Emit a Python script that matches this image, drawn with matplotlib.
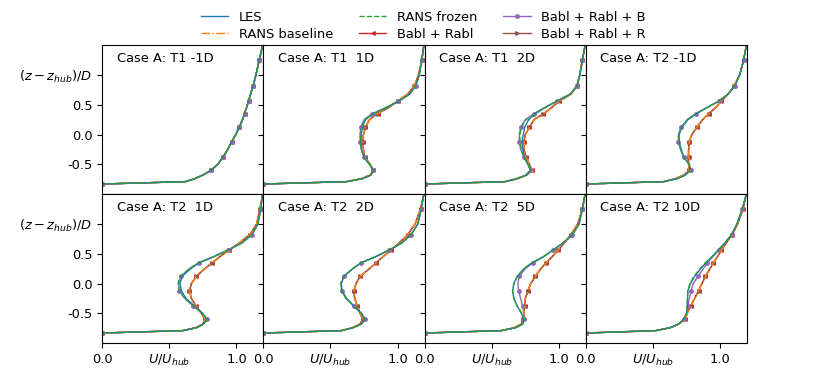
import numpy as np
import matplotlib
matplotlib.use("Agg")
import matplotlib.pyplot as plt

plt.rcParams["font.size"] = 9.4

# ====== 縦方向の位置 (z - z_hub)/D ======
z = [-0.83, -0.79, -0.74, -0.68, -0.60, -0.50, -0.38, -0.25, -0.12, 0.0,
     0.12, 0.25, 0.35, 0.45, 0.56, 0.68, 0.82, 1.0, 1.25, 1.5]

panel_titles = ["Case A: T1 -1D", "Case A: T1  1D", "Case A: T1  2D", "Case A: T2 -1D",
                "Case A: T2  1D", "Case A: T2  2D", "Case A: T2  5D", "Case A: T2 10D"]

series_names = ["LES", "RANS baseline", "RANS frozen",
                "Babl + Rabl", "Babl + Rabl + B", "Babl + Rabl + R"]

# ====== T1 -1D (流入) ======
u_inflow = [0, 0.62, 0.69, 0.75, 0.81, 0.86, 0.90, 0.935, 0.965, 0.995,
            1.02, 1.045, 1.06, 1.075, 1.09, 1.105, 1.125, 1.145, 1.17, 1.195]

# ====== T1 1D ======
les_t1_1 = [0, 0.62, 0.74, 0.80, 0.82, 0.79, 0.75, 0.73, 0.725, 0.73,
            0.735, 0.76, 0.82, 0.915, 1.01, 1.09, 1.135, 1.16, 1.18, 1.195]
base_t1_1 = [0, 0.62, 0.72, 0.79, 0.82, 0.795, 0.755, 0.745, 0.74, 0.745,
             0.76, 0.79, 0.85, 0.93, 1.0, 1.075, 1.125, 1.155, 1.18, 1.195]
frozen_t1_1 = [0, 0.62, 0.74, 0.80, 0.82, 0.79, 0.75, 0.73, 0.725, 0.725,
               0.73, 0.755, 0.815, 0.91, 1.005, 1.09, 1.135, 1.16, 1.18, 1.195]
babl_t1_1 = [0, 0.62, 0.73, 0.80, 0.82, 0.795, 0.755, 0.745, 0.74, 0.745,
             0.76, 0.79, 0.85, 0.93, 1.0, 1.075, 1.125, 1.155, 1.18, 1.195]
bablb_t1_1 = [0, 0.62, 0.74, 0.80, 0.82, 0.79, 0.75, 0.73, 0.72, 0.72,
              0.725, 0.75, 0.81, 0.91, 1.005, 1.09, 1.135, 1.16, 1.18, 1.195]
bablr_t1_1 = [0, 0.62, 0.73, 0.80, 0.82, 0.795, 0.755, 0.745, 0.74, 0.745,
              0.76, 0.79, 0.85, 0.93, 1.0, 1.075, 1.125, 1.155, 1.18, 1.195]

# ====== T1 2D ======
les_t1_2 = [0, 0.60, 0.69, 0.755, 0.79, 0.77, 0.745, 0.73, 0.725, 0.735,
            0.745, 0.775, 0.825, 0.895, 0.985, 1.085, 1.135, 1.155, 1.175, 1.195]
base_t1_2 = [0, 0.60, 0.68, 0.75, 0.80, 0.78, 0.755, 0.74, 0.74, 0.75,
             0.78, 0.815, 0.885, 0.945, 1.0, 1.09, 1.135, 1.155, 1.175, 1.195]
frozen_t1_2 = [0, 0.60, 0.69, 0.755, 0.79, 0.77, 0.74, 0.72, 0.71, 0.71,
               0.72, 0.755, 0.82, 0.895, 0.985, 1.085, 1.135, 1.155, 1.175, 1.195]
babl_t1_2 = [0, 0.60, 0.69, 0.76, 0.80, 0.78, 0.755, 0.74, 0.74, 0.75,
             0.78, 0.815, 0.885, 0.945, 1.0, 1.09, 1.135, 1.155, 1.175, 1.195]
bablb_t1_2 = [0, 0.60, 0.69, 0.755, 0.79, 0.77, 0.74, 0.715, 0.705, 0.705,
              0.715, 0.75, 0.815, 0.89, 0.985, 1.085, 1.135, 1.155, 1.175, 1.195]
bablr_t1_2 = [0, 0.60, 0.69, 0.76, 0.80, 0.78, 0.755, 0.74, 0.74, 0.75,
              0.78, 0.815, 0.885, 0.945, 1.0, 1.09, 1.135, 1.155, 1.175, 1.195]

# ====== T2 -1D ======
les_t2_m1 = [0, 0.58, 0.68, 0.74, 0.78, 0.77, 0.73, 0.71, 0.695, 0.695,
             0.715, 0.76, 0.825, 0.90, 0.99, 1.06, 1.11, 1.145, 1.175, 1.195]
base_t2_m1 = [0, 0.58, 0.665, 0.725, 0.77, 0.765, 0.765, 0.765, 0.77, 0.79,
              0.825, 0.87, 0.915, 0.965, 1.01, 1.06, 1.105, 1.145, 1.175, 1.195]
frozen_t2_m1 = [0, 0.58, 0.68, 0.74, 0.78, 0.77, 0.73, 0.705, 0.69, 0.69,
                0.71, 0.755, 0.82, 0.90, 0.99, 1.06, 1.11, 1.145, 1.175, 1.195]
babl_t2_m1 = [0, 0.58, 0.67, 0.73, 0.77, 0.765, 0.765, 0.765, 0.77, 0.79,
              0.825, 0.87, 0.915, 0.965, 1.01, 1.06, 1.105, 1.145, 1.175, 1.195]
bablb_t2_m1 = [0, 0.58, 0.68, 0.74, 0.78, 0.77, 0.73, 0.705, 0.69, 0.69,
               0.71, 0.755, 0.82, 0.90, 0.99, 1.06, 1.11, 1.145, 1.175, 1.195]
bablr_t2_m1 = [0, 0.58, 0.67, 0.73, 0.77, 0.765, 0.765, 0.765, 0.77, 0.79,
               0.825, 0.87, 0.915, 0.965, 1.01, 1.06, 1.105, 1.145, 1.175, 1.195]

# ====== T2 1D ======
les_t2_1 = [0, 0.60, 0.705, 0.755, 0.78, 0.75, 0.69, 0.625, 0.59, 0.58,
            0.595, 0.66, 0.725, 0.83, 0.935, 1.04, 1.115, 1.16, 1.18, 1.195]
base_t2_1 = [0, 0.60, 0.695, 0.745, 0.765, 0.74, 0.70, 0.665, 0.65, 0.665,
             0.70, 0.765, 0.82, 0.875, 0.945, 1.02, 1.10, 1.15, 1.175, 1.195]
frozen_t2_1 = [0, 0.60, 0.705, 0.755, 0.78, 0.745, 0.68, 0.615, 0.575, 0.565,
               0.58, 0.65, 0.72, 0.83, 0.935, 1.04, 1.115, 1.16, 1.18, 1.195]
babl_t2_1 = [0, 0.60, 0.70, 0.75, 0.765, 0.74, 0.70, 0.665, 0.65, 0.665,
             0.70, 0.765, 0.82, 0.875, 0.945, 1.02, 1.10, 1.15, 1.175, 1.195]
bablb_t2_1 = [0, 0.60, 0.705, 0.755, 0.78, 0.745, 0.68, 0.615, 0.575, 0.57,
              0.585, 0.65, 0.72, 0.83, 0.935, 1.04, 1.115, 1.16, 1.18, 1.195]
bablr_t2_1 = [0, 0.60, 0.70, 0.75, 0.765, 0.74, 0.70, 0.665, 0.65, 0.665,
              0.70, 0.765, 0.82, 0.875, 0.945, 1.02, 1.10, 1.15, 1.175, 1.195]

# ====== T2 2D ======
les_t2_2 = [0, 0.58, 0.67, 0.73, 0.757, 0.73, 0.675, 0.62, 0.585, 0.58,
            0.60, 0.665, 0.73, 0.835, 0.935, 1.03, 1.10, 1.15, 1.175, 1.195]
base_t2_2 = [0, 0.58, 0.66, 0.715, 0.74, 0.72, 0.70, 0.68, 0.675, 0.69,
             0.72, 0.79, 0.84, 0.89, 0.95, 1.01, 1.075, 1.13, 1.17, 1.195]
frozen_t2_2 = [0, 0.58, 0.67, 0.73, 0.757, 0.73, 0.675, 0.615, 0.58, 0.575,
               0.595, 0.665, 0.73, 0.835, 0.935, 1.03, 1.10, 1.15, 1.175, 1.195]
babl_t2_2 = [0, 0.58, 0.665, 0.72, 0.74, 0.72, 0.70, 0.68, 0.675, 0.69,
             0.72, 0.79, 0.84, 0.89, 0.95, 1.01, 1.075, 1.13, 1.17, 1.195]
bablb_t2_2 = [0, 0.58, 0.67, 0.73, 0.757, 0.73, 0.675, 0.615, 0.585, 0.58,
              0.60, 0.665, 0.73, 0.835, 0.935, 1.03, 1.10, 1.15, 1.175, 1.195]
bablr_t2_2 = [0, 0.58, 0.665, 0.72, 0.74, 0.72, 0.70, 0.68, 0.675, 0.69,
              0.72, 0.79, 0.84, 0.89, 0.95, 1.01, 1.075, 1.13, 1.17, 1.195]

# ====== T2 5D ======
les_t2_5 = [0, 0.57, 0.68, 0.73, 0.74, 0.72, 0.69, 0.665, 0.655, 0.665,
            0.69, 0.74, 0.80, 0.885, 0.955, 1.03, 1.10, 1.15, 1.175, 1.195]
base_t2_5 = [0, 0.57, 0.665, 0.715, 0.735, 0.74, 0.745, 0.75, 0.77, 0.79,
             0.825, 0.865, 0.905, 0.95, 0.995, 1.04, 1.09, 1.14, 1.175, 1.195]
frozen_t2_5 = [0, 0.57, 0.68, 0.73, 0.745, 0.725, 0.69, 0.665, 0.655, 0.665,
               0.69, 0.74, 0.80, 0.885, 0.955, 1.03, 1.10, 1.15, 1.175, 1.195]
babl_t2_5 = [0, 0.57, 0.67, 0.72, 0.735, 0.74, 0.745, 0.75, 0.77, 0.79,
             0.825, 0.865, 0.905, 0.95, 0.995, 1.04, 1.09, 1.14, 1.175, 1.195]
bablb_t2_5 = [0, 0.57, 0.68, 0.73, 0.74, 0.74, 0.73, 0.715, 0.70, 0.695,
              0.705, 0.75, 0.81, 0.885, 0.955, 1.03, 1.10, 1.15, 1.175, 1.195]
bablr_t2_5 = [0, 0.57, 0.67, 0.72, 0.735, 0.74, 0.745, 0.75, 0.77, 0.79,
              0.825, 0.865, 0.905, 0.95, 0.995, 1.04, 1.09, 1.14, 1.175, 1.195]

# ====== T2 10D ======
les_t2_10 = [0, 0.52, 0.63, 0.69, 0.73, 0.75, 0.755, 0.757, 0.76, 0.78,
             0.81, 0.855, 0.895, 0.94, 0.985, 1.035, 1.085, 1.125, 1.165, 1.195]
base_t2_10 = [0, 0.52, 0.63, 0.69, 0.74, 0.755, 0.78, 0.81, 0.84, 0.865,
              0.89, 0.925, 0.95, 0.98, 1.01, 1.045, 1.09, 1.13, 1.17, 1.195]
frozen_t2_10 = [0, 0.52, 0.63, 0.69, 0.73, 0.75, 0.755, 0.757, 0.76, 0.775,
                0.805, 0.85, 0.89, 0.94, 0.985, 1.035, 1.085, 1.125, 1.165, 1.195]
babl_t2_10 = [0, 0.52, 0.63, 0.69, 0.74, 0.755, 0.78, 0.81, 0.84, 0.865,
              0.89, 0.925, 0.95, 0.98, 1.01, 1.045, 1.09, 1.13, 1.17, 1.195]
bablb_t2_10 = [0, 0.52, 0.63, 0.69, 0.73, 0.75, 0.76, 0.77, 0.785, 0.80,
               0.835, 0.875, 0.905, 0.945, 0.99, 1.035, 1.085, 1.125, 1.165, 1.195]
bablr_t2_10 = [0, 0.52, 0.63, 0.69, 0.74, 0.755, 0.78, 0.81, 0.84, 0.865,
               0.89, 0.925, 0.95, 0.98, 1.01, 1.045, 1.09, 1.13, 1.17, 1.195]

panels = [
    [u_inflow] * 6,
    [les_t1_1, base_t1_1, frozen_t1_1, babl_t1_1, bablb_t1_1, bablr_t1_1],
    [les_t1_2, base_t1_2, frozen_t1_2, babl_t1_2, bablb_t1_2, bablr_t1_2],
    [les_t2_m1, base_t2_m1, frozen_t2_m1, babl_t2_m1, bablb_t2_m1, bablr_t2_m1],
    [les_t2_1, base_t2_1, frozen_t2_1, babl_t2_1, bablb_t2_1, bablr_t2_1],
    [les_t2_2, base_t2_2, frozen_t2_2, babl_t2_2, bablb_t2_2, bablr_t2_2],
    [les_t2_5, base_t2_5, frozen_t2_5, babl_t2_5, bablb_t2_5, bablr_t2_5],
    [les_t2_10, base_t2_10, frozen_t2_10, babl_t2_10, bablb_t2_10, bablr_t2_10],
]

# ====== 線のスタイル (緑・橙が上に来るように zorder を調整) ======
styles = [
    dict(color="C0", ls="-", zorder=2.3),
    dict(color="C1", ls="-.", zorder=2.2),
    dict(color="C2", ls="--", zorder=2.4),
    dict(color="C3", ls="-", marker="<", zorder=1.5),
    dict(color="C4", ls="-", marker="o", zorder=1.7),
    dict(color="C5", ls="-", marker=">", zorder=1.6),
]
mark_idx = [0, 4, 6, 8, 10, 12, 14, 16, 18]

fig, axes = plt.subplots(2, 4, figsize=(8.3, 3.86), dpi=100, sharey=True)
fig.subplots_adjust(left=0.123, right=0.9, top=0.883, bottom=0.111,
                    wspace=0, hspace=0)

for i, ax in enumerate(axes.flat):
    for name, u, st in zip(series_names, panels[i], styles):
        ax.plot(u, z, label=name, lw=1.0, ms=2.5, markevery=mark_idx, **st)
    ax.text(0.09, 0.91, panel_titles[i], transform=ax.transAxes, va="center")
    ax.set_xlim(0, 1.2)
    ax.set_ylim(-1.0, 1.5)
    if i < 4:
        ax.set_xticks([])
    else:
        ax.set_xticks([0, 0.5, 1.0])
        ax.set_xticklabels(["0.0", "$U/U_{hub}$", "1.0"])

axes[0, 0].set_yticks([-0.5, 0.0, 0.5, 1.0])
axes[0, 0].set_yticklabels(["-0.5", "0.0", "0.5", "$(z-z_{hub})/D$"])

handles, labels = axes[0, 0].get_legend_handles_labels()
fig.legend(handles, labels, loc="upper center", bbox_to_anchor=(0.51, 1.003),
           ncol=3, frameon=False, labelspacing=0.3, handlelength=2.1)

plt.savefig("out.png")
